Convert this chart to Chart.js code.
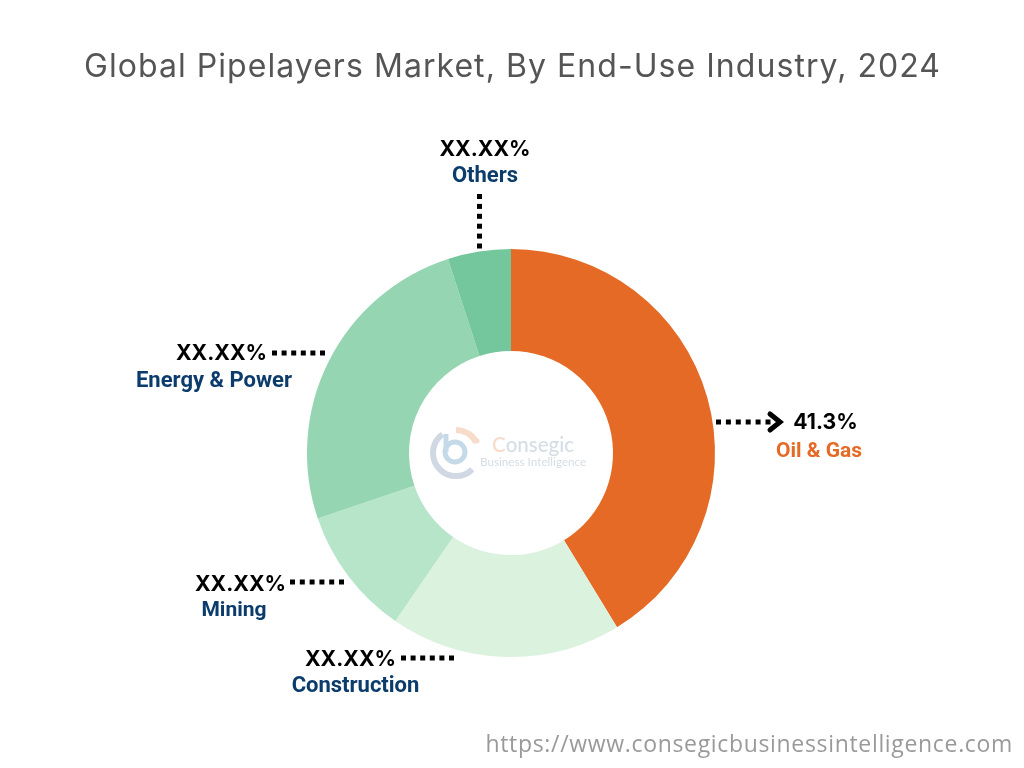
<!DOCTYPE html>
<html>
<head>
<meta charset="utf-8">
<title>Global Pipelayers Market</title>
<script src="https://cdn.jsdelivr.net/npm/chart.js@4/dist/chart.umd.min.js"></script>
<style>
  html, body { margin: 0; padding: 0; background: #fff; }
  #wrap { width: 1024px; height: 768px; }
</style>
</head>
<body>
<div id="wrap"><canvas id="myChart" width="1024" height="768"></canvas></div>
<script>
// Data (only Oil & Gas has a printed value)
const categories = ["Oil & Gas", "Construction", "Mining", "Energy & Power", "Others"];
const shares = [41.3, 18.3, 10.2, 25.2, 5.0];
const shareLabels = ["41.3%", "XX.XX%", "XX.XX%", "XX.XX%", "XX.XX%"];
const chartTitle = "Global Pipelayers Market, By End-Use Industry, 2024";
const siteUrl = "https://www.consegicbusinessintelligence.com";
const logoName = "Consegic";
const logoTag = "Business Intelligence";

const sliceColors = ["#e56a26", "#dbf2de", "#b7e5c9", "#95d5b2", "#74c69d"];
const navy = "#0b3c6b";

// where each callout goes, same order as categories
const callouts = [
    { vx: 825.5, vy: 423, lx: 819, ly: 452, size: 21, color: "#e56a26", dots: [718.5, 422, 768, 422], arrow: true },
    { vx: 350.5, vy: 660, lx: 355.5, ly: 686, size: 22, color: navy, dots: [403.5, 658, 451.5, 658] },
    { vx: 240.5, vy: 585, lx: 234, ly: 611, size: 21, color: navy, dots: [292.5, 582, 341.5, 582] },
    { vx: 221.5, vy: 354, lx: 214, ly: 381, size: 22, color: navy, dots: [274.5, 353, 322.5, 353] },
    { vx: 485, vy: 150, lx: 485, ly: 176, size: 22, color: navy, dots: [479.5, 196.5, 479.5, 246] }
];

function dottedLine(ctx, x1, y1, x2, y2) {
    const len = Math.hypot(x2 - x1, y2 - y1);
    const n = Math.round(len / 10);
    ctx.fillStyle = "#000";
    for (let i = 0; i <= n; i++) {
        const x = x1 + (x2 - x1) * i / n;
        const y = y1 + (y2 - y1) * i / n;
        ctx.fillRect(x - 2.5, y - 2.5, 5, 5);
    }
}

const calloutPlugin = {
    id: "callouts",
    afterDraw(chart) {
        const ctx = chart.ctx;
        ctx.save();
        ctx.textBaseline = "middle";

        // title is drawn here, the chart title box would squeeze it to the padded width
        ctx.textAlign = "center";
        ctx.fillStyle = "#555555";
        ctx.font = "400 32px Inter";
        ctx.letterSpacing = "1.05px";
        ctx.fillText(chartTitle, 512.5, 67);
        ctx.letterSpacing = "0px";

        callouts.forEach((c, i) => {
            dottedLine(ctx, c.dots[0], c.dots[1], c.dots[2], c.dots[3]);
            if (c.arrow) {
                ctx.strokeStyle = "#000";
                ctx.lineWidth = 5;
                ctx.lineCap = "round";
                ctx.lineJoin = "miter";
                ctx.beginPath();
                ctx.moveTo(770, 414);
                ctx.lineTo(780, 422);
                ctx.lineTo(770, 430);
                ctx.stroke();
            }
            ctx.fillStyle = "#000";
            ctx.font = "700 21.2px Inter";
            ctx.fillText(shareLabels[i], c.vx, c.vy);
            ctx.fillStyle = c.color;
            ctx.font = "700 " + c.size + "px Roboto";
            ctx.fillText(categories[i], c.lx, c.ly);
        });

        // footer url
        ctx.fillStyle = "#9a9a9a";
        ctx.font = "400 23px 'Open Sans'";
        ctx.letterSpacing = "0.67px";
        ctx.textAlign = "right";
        ctx.fillText(siteUrl, 1013, 745);
        ctx.letterSpacing = "0px";
        ctx.restore();
    }
};

// faded company mark in the hole
const logoPlugin = {
    id: "logo",
    afterDraw(chart) {
        const ctx = chart.ctx;
        ctx.save();
        ctx.lineCap = "butt";
        ctx.strokeStyle = "#cfd8e3";
        ctx.lineWidth = 6;
        ctx.beginPath();
        ctx.arc(456, 453, 23, Math.PI * 0.25, Math.PI * 1.3);
        ctx.stroke();
        ctx.strokeStyle = "#f8dccb";
        ctx.beginPath();
        ctx.arc(456, 453, 23, Math.PI * 1.5, Math.PI * 1.85);
        ctx.stroke();
        ctx.strokeStyle = "#c5dae9";
        ctx.lineWidth = 5;
        ctx.beginPath();
        ctx.arc(455, 452, 10, 0, Math.PI * 2);
        ctx.stroke();
        ctx.beginPath();
        ctx.moveTo(446, 434);
        ctx.lineTo(446, 452);
        ctx.stroke();
        ctx.fillStyle = "#f8dccb";
        ctx.beginPath();
        ctx.arc(477, 441, 2.5, 0, Math.PI * 2);
        ctx.fill();

        ctx.textBaseline = "middle";
        ctx.textAlign = "left";
        ctx.font = "500 20.5px Lato";
        ctx.fillStyle = "#f8dccb";
        ctx.fillText(logoName[0], 492, 445);
        const w = ctx.measureText(logoName[0]).width;
        ctx.fillStyle = "#d5dde6";
        ctx.fillText(logoName.slice(1), 492 + w, 445);
        ctx.font = "400 11.7px Lato";
        ctx.fillStyle = "#d5dde6";
        ctx.fillText(logoTag, 480, 462);
        ctx.restore();
    }
};

const cv = document.getElementById("myChart").getContext("2d");
const myChart = new Chart(cv, {
    type: "doughnut",
    data: {
        labels: categories,
        datasets: [{
            data: shares,
            backgroundColor: sliceColors,
            borderWidth: 0
        }]
    },
    options: {
        responsive: false,
        animation: false,
        cutout: "50%",
        layout: {
            padding: { left: 307, right: 309, top: 249, bottom: 111 }
        },
        plugins: {
            legend: { display: false },
            tooltip: { enabled: false },
            title: { display: false }
        }
    },
    plugins: [calloutPlugin, logoPlugin]
});
</script>
</body>
</html>
